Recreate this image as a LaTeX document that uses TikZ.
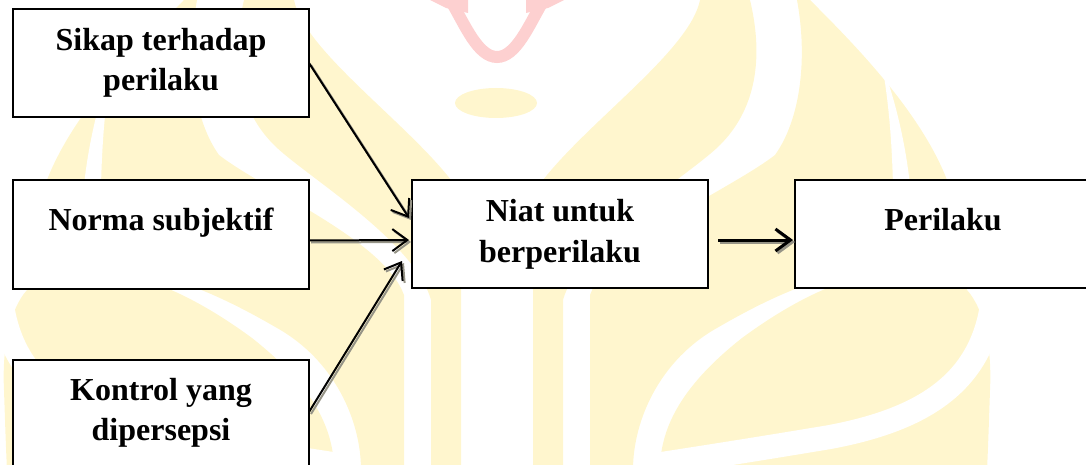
\documentclass[tikz,border=0pt]{standalone}
\usepackage{fontspec}
\setmainfont{Liberation Serif}
\usetikzlibrary{arrows.meta,calc}
\definecolor{wmyellow}{RGB}{255,246,206}
\definecolor{wmpink}{RGB}{253,208,208}
\definecolor{shadegray}{RGB}{150,148,135}

% one half of the emblem in the background (right of its axis)
\newcommand\emblemhalf{%
  % inner flame
  \fill[wmyellow] (700,0) .. controls (690,50) and (590,120) .. (543,180)
     .. controls (535,215) and (533,250) .. (533,290) -- (533,470) -- (563,470) -- (563,300)
     .. controls (580,240) and (690,175) .. (720,145)
     .. controls (760,105) and (762,50) .. (750,0) -- cycle;
  % outer flame
  \fill[wmyellow] (797,0) .. controls (808,60) and (800,120) .. (775,155)
     .. controls (730,190) and (610,240) .. (590,295) -- (590,470) -- (633,470)
     .. controls (633,420) and (660,360) .. (717,328)
     .. controls (760,303) and (785,293) .. (800,287)
     .. controls (900,250) and (965,235) .. (947,180)
     .. controls (920,110) and (850,40) .. (810,0) -- cycle;
  % slit in the outer flame
  \fill[white] (882,64) .. controls (890,110) and (892,150) .. (893,185) -- (910,185)
     .. controls (905,140) and (895,100) .. (882,64) -- cycle;
  % outermost flame
  \fill[wmyellow] (660,470) .. controls (660,425) and (685,383) .. (742,338)
     .. controls (780,310) and (810,295) .. (830,287) -- (960,240) -- (967,290)
     .. controls (985,310) and (992,350) .. (990,390)
     .. controls (989,420) and (988,450) .. (987,470) -- cycle;
  % band across the outermost flame
  \draw[white, line width=24pt] (992,305) .. controls (980,385) and (920,420) .. (830,437)
     .. controls (770,447) and (720,455) .. (655,465);
}

\tikzset{
  box/.style={draw=black, line width=2pt, fill=white, minimum width=296pt,
    minimum height=108pt, inner sep=0pt, outer sep=0pt},
  lbl/.style={font=\bfseries\fontsize{32}{40.5}\selectfont, align=center,
    anchor=base, inner sep=0pt},
  flow/.style={line width=2pt, -{Straight Barb[length=15pt,width=22pt]}},
  flowshadow/.style={flow, draw=shadegray, transform canvas={xshift=2pt,yshift=-2pt}},
}

\begin{document}
\begin{tikzpicture}[x=1pt, y=-1pt]
  \useasboundingbox (0,0) rectangle (1086,465);
  \clip (0,0) rectangle (1086,465);

  % background emblem
  \emblemhalf
  \begin{scope}[shift={(994,0)}, xscale=-1]
    \emblemhalf
  \end{scope}
  \fill[wmyellow] (496,103) ellipse [x radius=41pt, y radius=15pt];
  \draw[wmpink, line width=12pt] (452,3) .. controls (465,25) and (478,57) .. (497,57)
     .. controls (516,57) and (529,25) .. (542,3);
  \fill[wmpink] (430,0) -- (468,0) -- (468,13) -- (446,8) -- cycle;
  \fill[wmpink] (564,0) -- (526,0) -- (526,13) -- (548,8) -- cycle;

  % boxes
  \node[box] (A) at (161,63) {};
  \node[box] (B) at (161,234.5) {};
  \node[box] (C) at (161,414) {};
  \node[box] (D) at (560,234) {};
  \node[box] (E) at (943,234) {};

  % labels (base = baseline of the last line)
  \node[lbl] (Atext) at (161,90.7) {Sikap terhadap\\perilaku};
  \node[lbl] (Btext) at (161,230) {Norma subjektif};
  \node[lbl] (Ctext) at (161,440.7) {Kontrol yang\\dipersepsi};
  \node[lbl] (Dtext) at (560,262) {Niat untuk\\berperilaku};
  \node[lbl] (Etext) at (943,230) {Perilaku};

  % connector end points
  \coordinate (a1) at (A.east);
  \coordinate (a2) at ($(D.west)+(-3pt,16pt)$);
  \coordinate (b1) at ($(B.east)+(0pt,-6pt)$);
  \coordinate (b2) at ($(D.west)+(-3pt,-6pt)$);
  \coordinate (c1) at ($(C.east)+(0pt,2pt)$);
  \coordinate (c2) at ($(D.west)+(-10pt,-27pt)$);
  \coordinate (d1) at ($(D.east)+(10pt,-6pt)$);
  \coordinate (d2) at ($(E.west)+(-2pt,-6pt)$);

  % connectors with their shadows
  \draw[flowshadow] (a1) -- (a2);
  \draw[flowshadow] (b1) -- (b2);
  \draw[flowshadow] (c1) -- (c2);
  \draw[flowshadow, line width=3pt] (d1) -- (d2);
  \draw[flow] (a1) -- (a2);
  \draw[flow] (b1) -- (b2);
  \draw[flow] (c1) -- (c2);
  \draw[flow, line width=3pt] (d1) -- (d2);
\end{tikzpicture}
\end{document}
